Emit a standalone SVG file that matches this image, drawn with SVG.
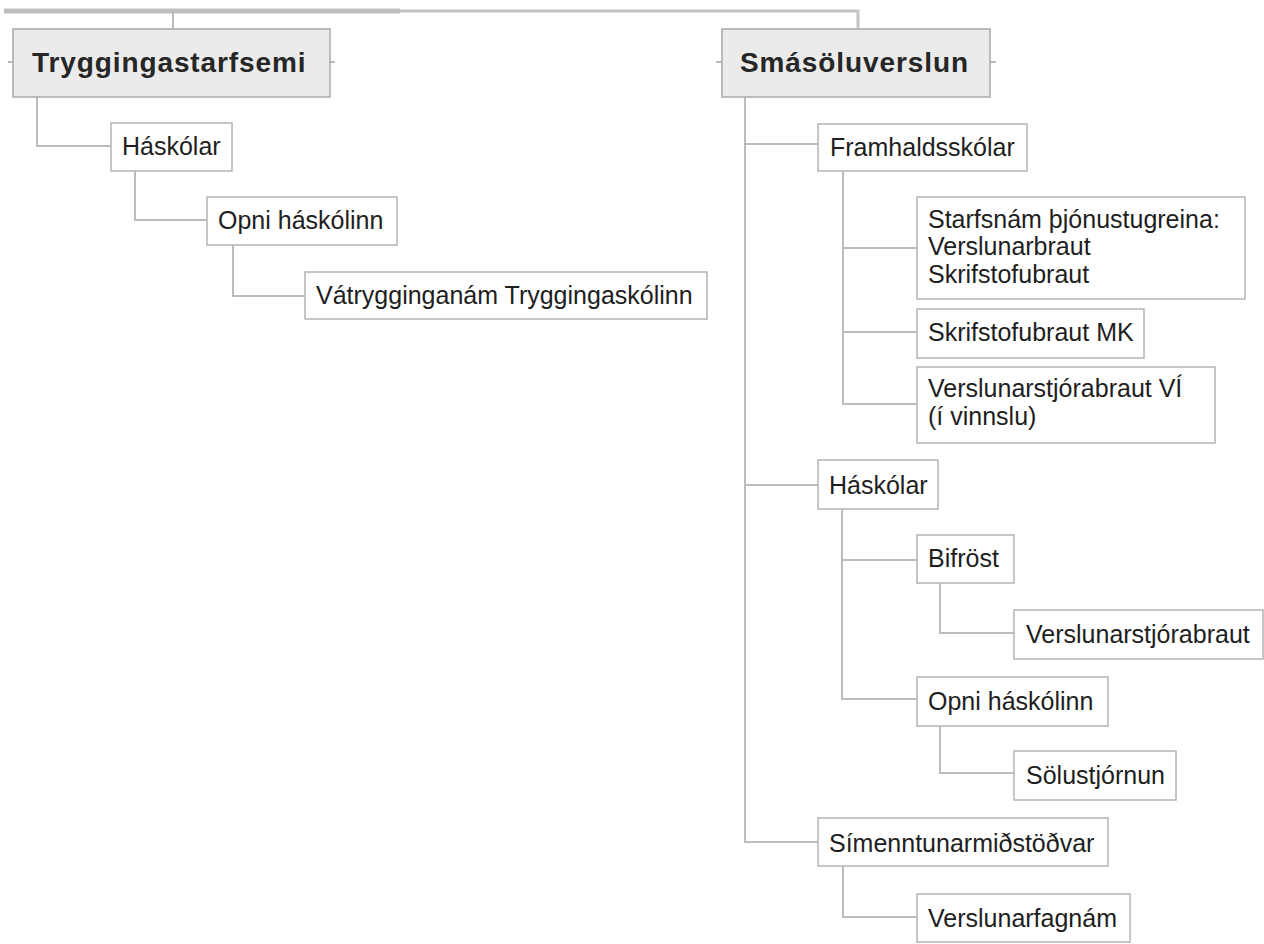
<svg xmlns="http://www.w3.org/2000/svg" width="1264" height="944" viewBox="0 0 1264 944">
<style>
.bx{fill:#ffffff;stroke:#b4b4b4;stroke-width:1.5}
.hd{fill:#ebebeb;stroke:#a8a8a8;stroke-width:1.5}
.t{font-family:"Liberation Sans",Arial,sans-serif;font-size:25px;fill:#1e1e1e}
.h{font-family:"Liberation Sans",Arial,sans-serif;font-size:28px;font-weight:bold;fill:#262626;letter-spacing:0.9px}
.c{fill:none;stroke:#bcbcbc;stroke-width:2}
</style>
<rect width="1264" height="944" fill="#ffffff"/>
<g id="connectors">
<path d="M4 11 H400" fill="none" stroke="#bfbfbf" stroke-width="5"/>
<path d="M400 11 H858 V29" fill="none" stroke="#c4c4c4" stroke-width="3"/>
<path class="c" d="M173 12 V29"/>
<path class="c" d="M8 62 H13 M330 62 H335"/>
<path class="c" d="M716 62 H722 M990 62 H996"/>
<path class="c" d="M37 97 V146 H111"/>
<path class="c" d="M135 171 V220 H207"/>
<path class="c" d="M233 245 V296 H305"/>
<path class="c" d="M745 97 V842 H818 M745 144 H818 M745 485 H818"/>
<path class="c" d="M843 171 V404 H917 M843 248 H917 M843 332 H917"/>
<path class="c" d="M842 509 V699 H917 M842 560 H917"/>
<path class="c" d="M940 583 V633 H1014"/>
<path class="c" d="M940 726 V773 H1014"/>
<path class="c" d="M843 866 V917 H917"/>
</g>
<g id="n-tryggingastarfsemi"><rect class="hd" x="13" y="29" width="317" height="68"/><text class="h" x="32" y="72">Tryggingastarfsemi</text></g>
<g id="n-haskolar-l"><rect class="bx" x="111" y="123" width="121" height="48"/><text class="t" x="122" y="155">Háskólar</text></g>
<g id="n-opni-l"><rect class="bx" x="207" y="197" width="190" height="48"/><text class="t" x="218" y="229">Opni háskólinn</text></g>
<g id="n-vatrygg"><rect class="bx" x="305" y="272" width="402" height="47"/><text class="t" x="316" y="304">Vátrygginganám Tryggingaskólinn</text></g>
<g id="n-smasolu"><rect class="hd" x="722" y="29" width="268" height="68"/><text class="h" x="740" y="72">Smásöluverslun</text></g>
<g id="n-framhald"><rect class="bx" x="818" y="124" width="209" height="47"/><text class="t" x="830" y="156">Framhaldsskólar</text></g>
<g id="n-starfsnam"><rect class="bx" x="917" y="197" width="328" height="102"/><text class="t" x="928" y="228">Starfsnám þjónustugreina:</text><text class="t" x="928" y="255">Verslunarbraut</text><text class="t" x="928" y="283">Skrifstofubraut</text></g>
<g id="n-mk"><rect class="bx" x="917" y="309" width="227" height="49"/><text class="t" x="928" y="341">Skrifstofubraut MK</text></g>
<g id="n-vi"><rect class="bx" x="917" y="367" width="298" height="76"/><text class="t" x="928" y="397">Verslunarstjórabraut VÍ</text><text class="t" x="928" y="425">(í vinnslu)</text></g>
<g id="n-haskolar-r"><rect class="bx" x="818" y="460" width="120" height="49"/><text class="t" x="829" y="494">Háskólar</text></g>
<g id="n-bifrost"><rect class="bx" x="917" y="535" width="97" height="48"/><text class="t" x="928" y="567">Bifröst</text></g>
<g id="n-verslstj"><rect class="bx" x="1014" y="610" width="249" height="49"/><text class="t" x="1026" y="643">Verslunarstjórabraut</text></g>
<g id="n-opni-r"><rect class="bx" x="917" y="677" width="191" height="49"/><text class="t" x="928" y="710">Opni háskólinn</text></g>
<g id="n-solu"><rect class="bx" x="1014" y="751" width="162" height="49"/><text class="t" x="1026" y="784">Sölustjórnun</text></g>
<g id="n-simennt"><rect class="bx" x="818" y="818" width="290" height="48"/><text class="t" x="829" y="852">Símenntunarmiðstöðvar</text></g>
<g id="n-fagnam"><rect class="bx" x="917" y="894" width="213" height="48"/><text class="t" x="928" y="927">Verslunarfagnám</text></g>
</svg>
